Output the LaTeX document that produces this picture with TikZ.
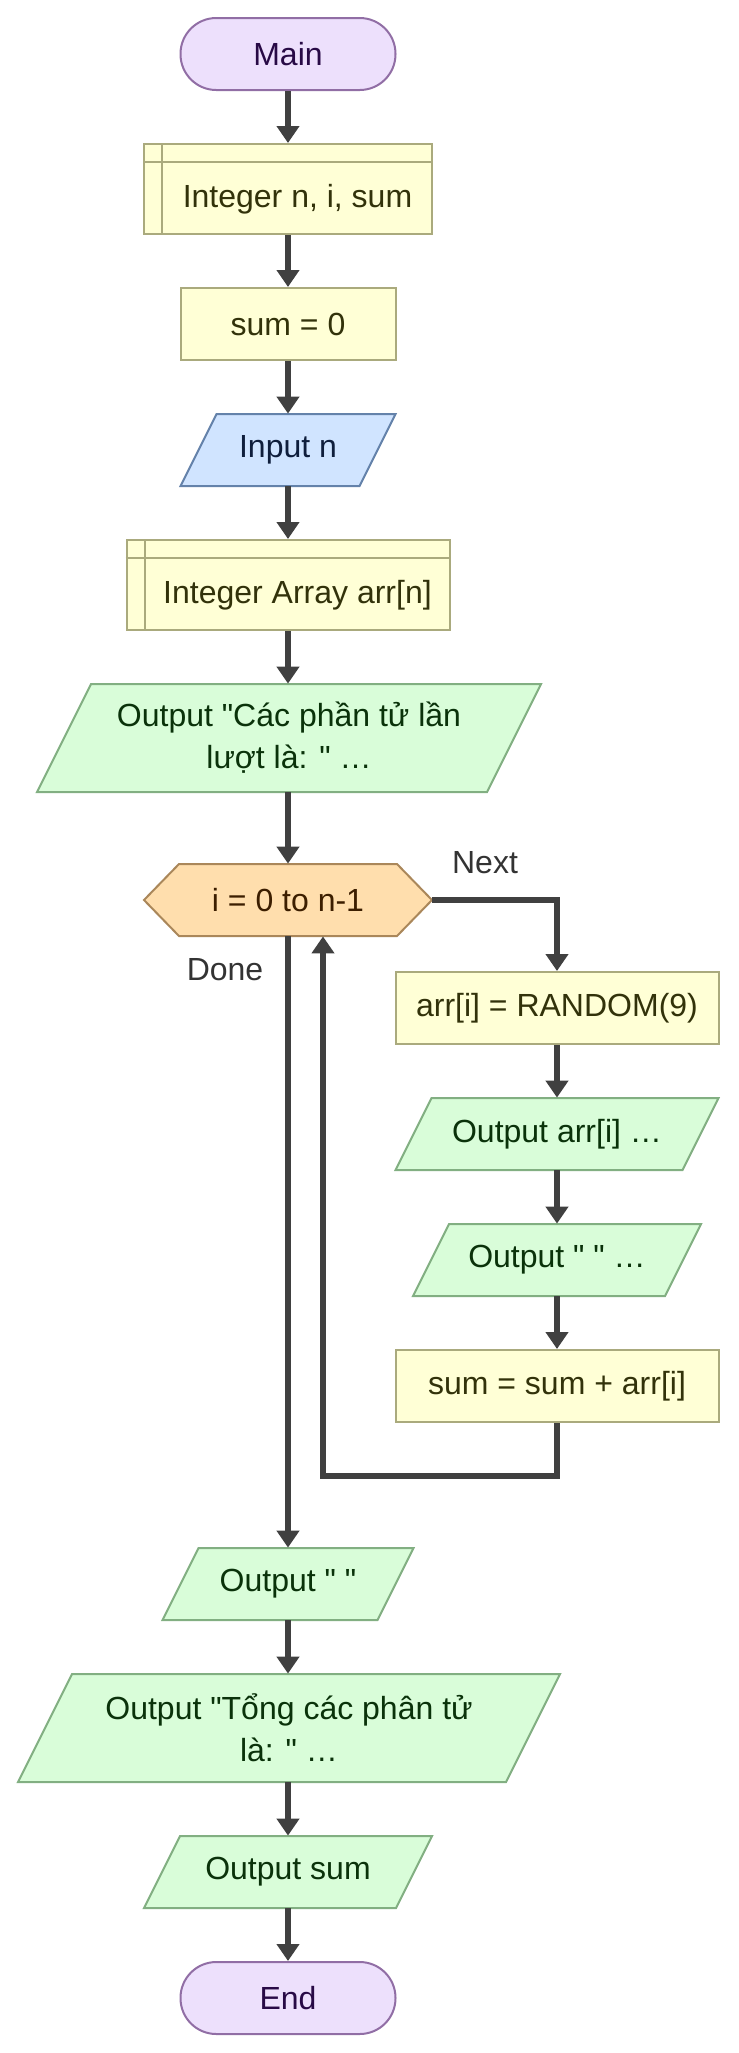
\documentclass[tikz,border=0pt]{standalone}
\usepackage{fontspec}
\setmainfont{Liberation Sans}[Ligatures=TeXOff]
\usetikzlibrary{arrows.meta,calc}

\definecolor{termfill}{RGB}{237,224,252}
\definecolor{termstroke}{RGB}{145,110,165}
\definecolor{termtext}{RGB}{40,10,70}
\definecolor{procfill}{RGB}{255,255,214}
\definecolor{procstroke}{RGB}{170,170,125}
\definecolor{proctext}{RGB}{50,50,10}
\definecolor{infill}{RGB}{208,228,255}
\definecolor{instroke}{RGB}{100,130,170}
\definecolor{intext}{RGB}{15,30,60}
\definecolor{outfill}{RGB}{217,253,217}
\definecolor{outstroke}{RGB}{130,175,130}
\definecolor{outtextc}{RGB}{10,50,10}
\definecolor{hexfill}{RGB}{255,222,173}
\definecolor{hexstroke}{RGB}{170,135,90}
\definecolor{hextextc}{RGB}{60,30,0}
\definecolor{arrowgray}{RGB}{64,64,64}
\definecolor{lblgray}{RGB}{51,51,51}

% parallelogram: name, cx, cy, edge length L, height h, text, kind
\newcommand\para[7]{%
  \filldraw[#7shape] ({#2-#4/2+#5/4},{#3-#5/2}) -- ({#2+#4/2+#5/4},{#3-#5/2})
     -- ({#2+#4/2-#5/4},{#3+#5/2}) -- ({#2-#4/2-#5/4},{#3+#5/2}) -- cycle;
  \node[#7txt, minimum width={#4*0.5pt}, minimum height={#5*0.5pt}] (#1) at (#2,#3) {#6};
}

\begin{document}
\begin{tikzpicture}[x=0.5pt,y=-0.5pt,
  font=\fontsize{16}{21}\selectfont,
  term/.style={draw=termstroke, fill=termfill, line width=1pt, rounded corners=17.9pt,
    minimum width=107.5pt, minimum height=36pt, text=termtext, inner sep=0pt},
  proc/.style={draw=procstroke, fill=procfill, line width=1pt,
    minimum height=36pt, text=proctext, inner sep=0pt},
  ptxt/.style={text=proctext, inner sep=0pt, align=center},
  outshape/.style={draw=outstroke, fill=outfill, line width=1pt},
  outtxt/.style={text=outtextc, inner sep=0pt, align=center},
  inshape/.style={draw=instroke, fill=infill, line width=1pt},
  intxt/.style={text=intext, inner sep=0pt, align=center},
  hexshape/.style={draw=hexstroke, fill=hexfill, line width=1pt},
  hextxt/.style={text=hextextc, inner sep=0pt},
  lbl/.style={text=lblgray, inner sep=0pt},
  flow/.style={draw=arrowgray, line width=2.7pt, -{Triangle[width=11pt,length=8.5pt]}},
  rule/.style={draw=procstroke, line width=1pt}
]
\useasboundingbox (0,0) rectangle (739,2053);

% left column
\node[term] (main) at (288,54) {Main};

\node[proc, minimum width=144pt, minimum height=45pt] (decl1) at (288,189) {};
\draw[rule] ([yshift=-9.5pt]decl1.north west) -- ([yshift=-9.5pt]decl1.north east);
\draw[rule] ([xshift=9.5pt]decl1.north west) -- ([xshift=9.5pt]decl1.south west);
\node[ptxt] (decl1t) at (297.5,199) {Integer n, i, sum};

\node[proc, minimum width=107.5pt] (sum0) at (288,324) {sum = 0};

\para{inpn}{288}{450}{179}{72}{Input n}{in}

\node[proc, minimum width=161.5pt, minimum height=45pt] (decl2) at (288,585) {};
\draw[rule] ([yshift=-9.5pt]decl2.north west) -- ([yshift=-9.5pt]decl2.north east);
\draw[rule] ([xshift=9.5pt]decl2.north west) -- ([xshift=9.5pt]decl2.south west);
\node[ptxt] (decl2t) at (297.5,595) {Integer Array arr[n]};

\para{out1}{289}{738}{450}{108}{Output "Các phần tử lần\\lượt là: " …}{out}

\filldraw[hexshape] (144,900) -- (179,864) -- (397,864) -- (432,900) -- (397,936) -- (179,936) -- cycle;
\node[hextxt, minimum width=144pt, minimum height=36pt] (loop) at (288,900) {i = 0 to n-1};

% right column
\node[proc, minimum width=161.5pt] (arr) at (557,1008) {arr[i] = RANDOM(9)};
\para{outarr}{557}{1134}{287}{72}{Output arr[i] …}{out}
\para{outsp}{557}{1260}{252}{72}{Output " " …}{out}
\node[proc, minimum width=161.5pt] (sumsum) at (557,1386) {sum = sum + arr[i]};

% bottom
\para{outsp2}{288}{1584}{215}{72}{Output " "}{out}
\para{outsum1}{289}{1728}{488}{108}{Output "Tổng các phân tử\\là: " …}{out}
\para{outsum}{288}{1872}{252}{72}{Output sum}{out}
\node[term] (end) at (288,1998) {End};

% labels
\node[lbl] (nextlbl) at (485,863) {Next};
\node[lbl] (donelbl) at (225,970) {Done};

% connectors
\draw[flow] (main.south) -- (decl1.north);
\draw[flow] (decl1.south) -- (sum0.north);
\draw[flow] (sum0.south) -- (inpn.north);
\draw[flow] (inpn.south) -- (decl2.north);
\draw[flow] (decl2.south) -- (out1.north -| decl2.south);
\draw[flow] (out1.south -| loop.north) -- (loop.north);
\draw[flow] (loop.east) -| (arr.north);
\draw[flow] (arr.south) -- (outarr.north);
\draw[flow] (outarr.south) -- (outsp.north);
\draw[flow] (outsp.south) -- (sumsum.north);
\coordinate (backbot) at (323,1476);
\draw[flow] (sumsum.south) |- (backbot) -- (backbot |- loop.south);
\draw[flow] (loop.south) -- (outsp2.north);
\draw[flow] (outsp2.south) -- (outsum1.north -| outsp2.south);
\draw[flow] (outsum1.south -| outsum.north) -- (outsum.north);
\draw[flow] (outsum.south) -- (end.north);
\end{tikzpicture}
\end{document}
